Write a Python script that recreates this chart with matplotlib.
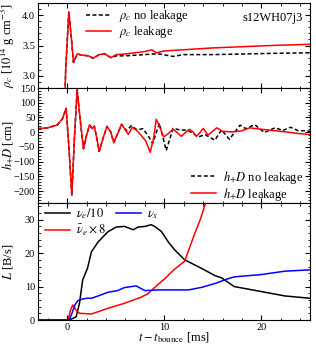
import numpy as np
import matplotlib
matplotlib.use("Agg")
import matplotlib.pyplot as plt
from matplotlib.ticker import MultipleLocator

plt.rcParams['font.family'] = ['Liberation Serif', 'DejaVu Serif']
plt.rcParams['mathtext.fontset'] = 'stix'
plt.rcParams['font.size'] = 9

# ---- central density ----
t_rho_leak = [-3.0, -0.3, -0.15, 0.17, 0.45, 0.65, 1.03, 1.6, 2.2, 2.65, 3.3, 3.9, 4.5, 5.05, 6.0, 7.0, 8.0, 8.7, 9.2, 10.0, 12.0, 15.0, 18.0, 21.0, 25.0]
rho_leak   = [2.0, 2.3, 3.1, 4.05, 3.6, 3.22, 3.36, 3.34, 3.33, 3.29, 3.35, 3.36, 3.30, 3.35, 3.36, 3.38, 3.40, 3.43, 3.38, 3.41, 3.43, 3.46, 3.48, 3.50, 3.52]
t_rho_nol  = [-3.0, -0.3, -0.15, 0.17, 0.45, 0.65, 1.03, 1.6, 2.2, 2.65, 3.3, 3.9, 4.5, 5.05, 6.0, 7.0, 8.0, 8.7, 9.5, 10.9, 12.0, 15.0, 18.0, 21.0, 25.0]
rho_nol    = [2.0, 2.3, 3.1, 4.05, 3.6, 3.22, 3.36, 3.34, 3.33, 3.29, 3.35, 3.36, 3.30, 3.33, 3.33, 3.34, 3.35, 3.36, 3.36, 3.32, 3.35, 3.35, 3.36, 3.37, 3.38]

# ---- GW strain ----
t_h_leak = [-3.0, -2.0, -1.0, -0.5, -0.1, 0.2, 0.48, 0.75, 1.03, 1.35, 1.68, 2.0, 2.3, 2.6, 2.8, 3.05, 3.3, 3.7, 4.1, 4.5, 4.8, 5.2, 5.6, 6.3, 6.7, 7.2, 7.6, 8.1, 8.55, 8.9, 9.17, 9.5, 9.93, 10.4, 10.9, 11.3, 11.75, 12.2, 12.6, 13.0, 13.3, 13.7, 14.0, 14.5, 15.4, 16.0, 17.0, 18.0, 18.8, 20.0, 22.0, 24.0, 25.0]
h_leak   = [12, 15, 25, 45, 81, -60, -213, -20, 144, 40, -56, -10, 24, 12, 20, -20, -65, -20, 20, 0, -35, -5, 27, -7, 17, 5, -10, -30, -68, -20, 44, 20, -16, -5, 10, 0, -14, 0, 10, 0, -14, 0, 13, -10, 15, 3, 1, 5, 15, 10, 3, -5, -8]
t_h_nol  = [-3.0, -2.0, -1.0, -0.5, -0.1, 0.2, 0.48, 0.75, 1.03, 1.35, 1.68, 2.0, 2.3, 2.6, 2.8, 3.05, 3.3, 3.7, 4.1, 4.5, 4.8, 5.2, 5.6, 6.1, 6.6, 7.2, 7.8, 8.3, 8.8, 9.5, 10.2, 10.9, 11.6, 12.4, 13.5, 14.2, 15.2, 15.9, 16.7, 17.8, 18.4, 19.3, 20.3, 21.4, 22.2, 23.0, 23.8, 24.4, 25.0]
h_nol    = [12, 15, 25, 45, 81, -60, -213, -20, 144, 40, -56, -10, 24, 12, 20, -20, -65, -20, 20, 0, -35, -5, 27, 5, 22, 8, 12, -10, -38, 30, -62, 13, 8, 7, -16, -8, -27, 8, -24, 24, 12, 26, -1, 15, 6, 17, 5, 5, 3]

# ---- luminosities ----
t_nue  = [-3.0, 0.2, 0.6, 0.93, 1.27, 1.6, 2.1, 2.5, 3.2, 4.2, 5.05, 5.9, 6.8, 7.3, 8.0, 8.66, 9.0, 9.7, 10.4, 11.06, 12.1, 13.8, 15.2, 15.9, 17.2, 20.0, 22.4, 25.0]
L_nue  = [0, 0, 0.5, 1, 5, 12, 15.5, 20.4, 23.4, 26.4, 27.8, 28.0, 27.0, 27.8, 28.0, 28.5, 28.0, 26.5, 23.4, 21.0, 18.0, 15.5, 13.3, 12.6, 10.0, 8.5, 7.2, 6.5]
t_nux  = [-3.0, 0.2, 0.5, 0.8, 1.1, 1.5, 2.0, 2.5, 3.2, 4.2, 5.2, 5.9, 7.1, 8.0, 9.4, 10.8, 12.5, 13.9, 15.3, 16.4, 17.2, 20.0, 22.4, 25.0]
L_nux  = [0, 0, 2.0, 4.5, 5.8, 6.2, 6.5, 6.5, 7.2, 8.3, 8.8, 9.7, 10.2, 8.8, 9.0, 9.0, 9.0, 9.8, 11.0, 12.2, 12.9, 13.6, 14.6, 15.0]
t_anue = [-3.0, 0.1, 0.35, 0.58, 0.9, 1.27, 2.5, 4.2, 5.9, 7.6, 8.3, 9.3, 10.0, 11.06, 12.1, 13.1, 13.7, 14.3]
L_anue = [0, 0, 3.0, 4.5, 3.0, 2.0, 1.8, 3.5, 5.0, 6.8, 7.8, 10.5, 12.2, 15.2, 17.6, 25.6, 30.0, 35.5]

fig = plt.figure(figsize=(3.16, 3.44), dpi=100)
L, W = 38/316, 272/316
ax1 = fig.add_axes([L, 1-88/344, W, 85/344])
ax2 = fig.add_axes([L, 1-203/344, W, 115/344], sharex=ax1)
ax3 = fig.add_axes([L, 1-320/344, W, 117/344], sharex=ax1)

lw = 1.1
dash = (2.6, 1.6)
ax1.plot(t_rho_nol, rho_nol, color='black', ls=(0, dash), lw=lw, label=r'$\rho_c$ no leakage')
ax1.plot(t_rho_leak, rho_leak, color='red', lw=lw, label=r'$\rho_c$ leakage')
ax1.set_ylim(2.8, 4.2)
ax1.set_ylabel(r'$\rho_c$ [$10^{14}$ g cm$^{-3}$]')
ax1.yaxis.set_major_locator(MultipleLocator(0.5))
ax1.yaxis.set_minor_locator(MultipleLocator(0.1))
ax1.legend(loc='upper left', frameon=False, bbox_to_anchor=(0.15, 1.03), handlelength=2.0, handletextpad=0.6, borderaxespad=0.2, labelspacing=0.0)
ax1.text(0.975, 0.9, 's12WH07j3', transform=ax1.transAxes, ha='right', va='top')

ax2.plot(t_h_nol, h_nol, color='black', ls=(0, dash), lw=lw, label=r'$h_{+}D$ no leakage')
ax2.plot(t_h_leak, h_leak, color='red', lw=lw, label=r'$h_{+}D$ leakage')
ax2.set_ylim(-240, 150)
ax2.set_ylabel(r'$h_{+}D$ [cm]')
ax2.yaxis.set_major_locator(MultipleLocator(50))
ax2.yaxis.set_minor_locator(MultipleLocator(10))
ax2.legend(loc='lower right', frameon=False, bbox_to_anchor=(1.0, -0.05), handlelength=2.0, handletextpad=0.6, borderaxespad=0.1, labelspacing=0.0)

ax3.plot(t_nue, L_nue, color='black', lw=lw, label=r'$\nu_e/10$')
ax3.plot(t_anue, L_anue, color='red', lw=lw, label=r'$\bar{\nu}_e\times 8$')
ax3.plot(t_nux, L_nux, color='blue', lw=lw, label=r'$\nu_x$')
ax3.set_ylim(0, 35)
ax3.set_ylabel(r'$L$ [B/s]')
ax3.yaxis.set_major_locator(MultipleLocator(10))
ax3.yaxis.set_minor_locator(MultipleLocator(2))
ax3.set_xlabel(r'$t-t_{\rm bounce}$ [ms]')
ax3.xaxis.set_label_coords(0.5, -0.155)
ax3.xaxis.label.set_verticalalignment('center')
ax3.legend(loc='upper left', ncol=2, frameon=False, bbox_to_anchor=(0.0, 1.03), handlelength=2.0, handletextpad=0.5, borderaxespad=0.15, labelspacing=0.15, columnspacing=0.8)

for ax in (ax1, ax2, ax3):
    ax.yaxis.set_label_coords(-30/272, 0.5)
    ax.yaxis.label.set_verticalalignment('center')

ax3.set_xlim(-3, 25)
ax3.xaxis.set_major_locator(MultipleLocator(10))
ax3.xaxis.set_minor_locator(MultipleLocator(2))

for ax in (ax1, ax2, ax3):
    ax.tick_params(which='both', direction='in', top=True, right=True, labelsize=7.5)
    ax.tick_params(which='major', length=3.5)
    ax.tick_params(which='minor', length=1.8)
    ax.tick_params(axis='both', pad=2)
for ax in (ax1, ax2):
    plt.setp(ax.get_xticklabels(), visible=False)

fig.savefig('out.png', dpi=100)
